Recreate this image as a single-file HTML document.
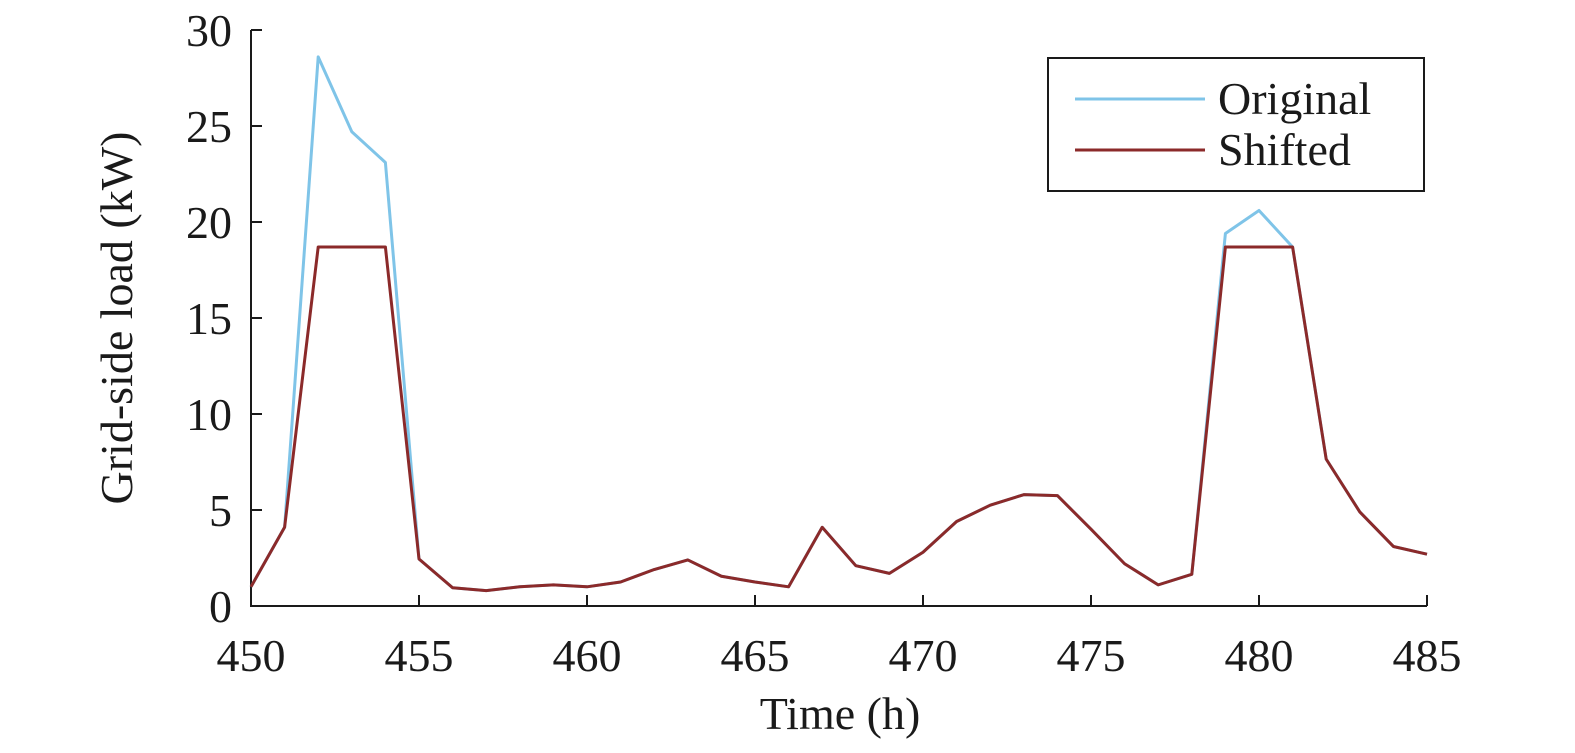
<!DOCTYPE html>
<html><head><meta charset="utf-8"><style>
body{margin:0;background:#fff}
svg text{font-family:"Liberation Serif",serif;fill:#1a1a1a}
</style></head><body>
<svg width="1575" height="748">
<g id="axes"></g>
<g id="series"></g>
<text x="132" y="318" font-size="46" text-anchor="middle" transform="rotate(-90 132 318)">Grid-side load (kW)</text>
<text x="840" y="729" font-size="46" text-anchor="middle">Time (h)</text>
<g>
<rect x="1048" y="58" width="376" height="133" fill="#fff" stroke="#1a1a1a" stroke-width="2"/>
<line x1="1075" y1="99" x2="1205" y2="99" stroke="#7fc4e8" stroke-width="3"/>
<text x="1218" y="114" font-size="46">Original</text>
<line x1="1075" y1="150" x2="1205" y2="150" stroke="#8b2a2a" stroke-width="3"/>
<text x="1218" y="165" font-size="46">Shifted</text>
</g>
</svg>
<script>
const hours=[450,451,452,453,454,455,456,457,458,459,460,461,462,463,464,465,466,467,468,469,470,471,472,473,474,475,476,477,478,479,480,481,482,483,484,485];
const shifted=[1.0,4.1,18.7,18.7,18.7,2.45,0.95,0.8,1.0,1.1,1.0,1.25,1.9,2.4,1.55,1.25,1.0,4.1,2.1,1.7,2.8,4.4,5.25,5.8,5.75,4.0,2.2,1.1,1.65,18.7,18.7,18.7,7.65,4.9,3.1,2.7];
const original=[1.0,4.1,28.6,24.7,23.1,2.45,0.95,0.8,1.0,1.1,1.0,1.25,1.9,2.4,1.55,1.25,1.0,4.1,2.1,1.7,2.8,4.4,5.25,5.8,5.75,4.0,2.2,1.1,1.65,19.4,20.6,18.7,7.65,4.9,3.1,2.7];
const xTicks=[450,455,460,465,470,475,480,485];
const yTicks=[0,5,10,15,20,25,30];
const NS="http://www.w3.org/2000/svg";
const X=v=>251+(v-450)*(1427-251)/35;
const Y=v=>606-v*(606-30)/30;
const ax=document.getElementById('axes'),se=document.getElementById('series');
function mk(t,a,p){const e=document.createElementNS(NS,t);for(const k in a)e.setAttribute(k,a[k]);p.appendChild(e);return e;}
let l=mk('line',{x1:251,y1:30,x2:251,y2:607,stroke:'#1a1a1a','stroke-width':2},ax);


l=mk('line',{x1:250,y1:606,x2:1427,y2:606,stroke:'#1a1a1a','stroke-width':2},ax);


yTicks.forEach(v=>{
 const t=mk('line',{x1:251,y1:Y(v),x2:262,y2:Y(v),stroke:'#1a1a1a','stroke-width':2},ax);
 
 
 const tx=mk('text',{x:232,y:Y(v)+16,'font-size':46,'text-anchor':'end'},ax);
 tx.textContent=v;
 
 
});
xTicks.forEach(v=>{
 const t=mk('line',{x1:X(v),y1:606,x2:X(v),y2:595,stroke:'#1a1a1a','stroke-width':2},ax);
 
 
 const tx=mk('text',{x:X(v),y:671,'font-size':46,'text-anchor':'middle'},ax);
 tx.textContent=v;
 
 
});
function line(vals,col,name){
 const p=mk('polyline',{points:vals.map((v,i)=>X(hours[i])+','+Y(v)).join(' '),fill:'none',stroke:col,'stroke-width':3,'stroke-linejoin':'round'},se);
 
 
}
line(original,'#7fc4e8','original-line');
line(shifted,'#8b2a2a','shifted-line');
</script>
</body></html>
